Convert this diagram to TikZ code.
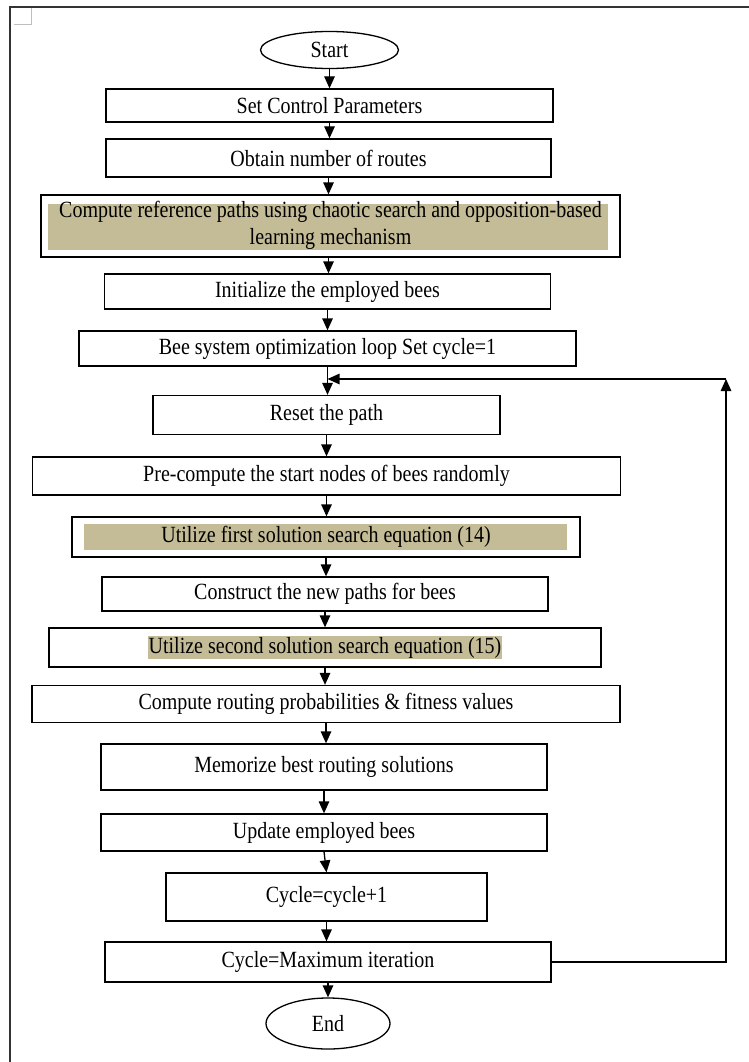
\documentclass[tikz,border=0pt]{standalone}
\usepackage{graphicx}
\usepackage{fontspec}
\setmainfont{Liberation Serif}
\usetikzlibrary{arrows.meta,shapes.geometric}
\definecolor{tanc}{HTML}{C4BC96}
\definecolor{framec}{HTML}{333333}
\newcommand{\stt}[1]{\scalebox{1}[1.16]{#1}}
\begin{document}
\begin{tikzpicture}[x=1pt,y=-1pt,
  box/.style={draw=black,line width=1.3pt,rectangle,inner sep=0pt,font=\fontsize{20}{23}\selectfont,align=center},
  term/.style={draw=black,line width=1.3pt,ellipse,inner sep=0pt,font=\fontsize{20}{23}\selectfont},
  txt/.style={inner sep=0pt,font=\fontsize{20}{23}\selectfont,align=center},
  arr/.style={line width=1.3pt,-{Triangle[length=12pt,width=10.5pt]}}]
\useasboundingbox (0,0) rectangle (749,1062);
% page frame
\draw[framec,line width=1.5pt] (10,1062) -- (10,7) -- (749,7);
\draw[black!25,line width=0.8pt] (14,24) -- (31,24) -- (31,8);
% nodes
\node[term,minimum width=138pt,minimum height=37pt] (start) at (329.5,50) {\stt{Start}};
\node[box,minimum width=447pt,minimum height=33pt] (set) at (329.5,105.5) {\stt{Set Control Parameters}};
\node[box,minimum width=445pt,minimum height=38pt] (obt) at (328.5,158) {\stt{Obtain number of routes}};
\fill[tanc] (48,204) rectangle (608,250);
\node[box,minimum width=579pt,minimum height=62pt] (comp) at (330.5,226) {};
\node[txt] (comptext) at (comp.center) {\stt{\begin{tabular}{@{}c@{}}Compute reference paths using chaotic search and opposition-based\\learning mechanism\end{tabular}}};
\node[box,minimum width=446pt,minimum height=35pt] (init) at (327.5,291.5) {\stt{Initialize the employed bees}};
\node[box,minimum width=497pt,minimum height=35pt] (bee) at (327.5,348.5) {\stt{Bee system optimization loop Set cycle=1}};
\node[box,minimum width=347pt,minimum height=39pt] (reset) at (326.5,415) {\stt{Reset the path}};
\node[box,minimum width=588pt,minimum height=38pt] (pre) at (326.5,476) {\stt{Pre-compute the start nodes of bees randomly}};
\fill[tanc] (84,524) rectangle (567,550);
\node[box,minimum width=508pt,minimum height=40pt] (u1) at (326,537) {};
\node[txt] (u1text) at (u1.center) {\stt{Utilize first solution search equation (14)}};
\node[box,minimum width=446pt,minimum height=34pt] (cons) at (325,594) {\stt{Construct the new paths for bees}};
\node[box,minimum width=552pt,minimum height=39pt] (u2) at (325,647.5) {};
\node[txt,fill=tanc,inner xsep=1pt,inner ysep=1pt] (u2text) at (u2.center) {\stt{Utilize second solution search equation (15)}};
\node[box,minimum width=588pt,minimum height=37pt] (rout) at (326,704) {\stt{Compute routing probabilities \& fitness values}};
\node[box,minimum width=446pt,minimum height=46pt] (mem) at (324,767) {\stt{Memorize best routing solutions}};
\node[box,minimum width=446pt,minimum height=37pt] (upd) at (324,832.5) {\stt{Update employed bees}};
\node[box,minimum width=321pt,minimum height=48pt] (cyc) at (326.5,897) {\stt{Cycle=cycle+1}};
\node[box,minimum width=446pt,minimum height=40pt] (cmax) at (328,962) {\stt{Cycle=Maximum iteration}};
\node[term,minimum width=124pt,minimum height=51pt] (end) at (328,1023.5) {\stt{End}};
% connectors
\draw[arr] (start.south) -- (start.south |- set.north);
\draw[arr] (set.south) -- (set.south |- obt.north);
\draw[arr] (obt.south) -- (obt.south |- comp.north);
\draw[arr] (comp.south -| obt.south) -- (obt.south |- init.north);
\draw[arr] (init.south) -- (init.south |- bee.north);
\coordinate (loopc) at (726,379);
\coordinate (join) at (bee.south |- loopc);
\draw[arr] (bee.south) -- (bee.south |- reset.north);
\draw[arr] (reset.south) -- (reset.south |- pre.north);
\draw[arr] (pre.south) -- (pre.south |- u1.north);
\draw[arr] (u1.south) -- (u1.south |- cons.north);
\draw[arr] (cons.south) -- (cons.south |- u2.north);
\draw[arr] (u2.south) -- (u2.south |- rout.north);
\draw[arr] (rout.south) -- (rout.south |- mem.north);
\draw[arr] (mem.south) -- (mem.south |- upd.north);
\draw[arr] (upd.south) -- (cyc.north);
\draw[arr] (cyc.south) -- (cyc.south |- cmax.north);
\draw[arr] (cmax.south) -- (end.north);
\draw[arr] (cmax.east) -| (loopc);
\draw[arr] (loopc) -- (join);
\end{tikzpicture}
\end{document}
